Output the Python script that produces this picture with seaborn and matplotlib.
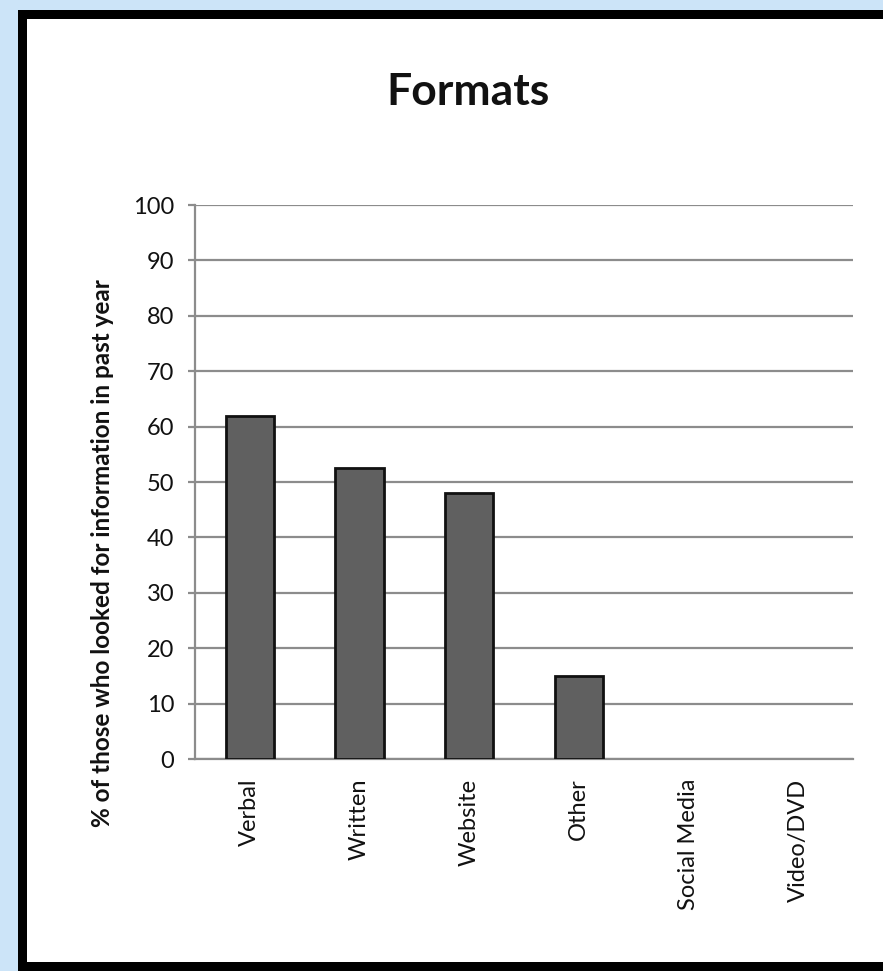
import matplotlib
matplotlib.use("Agg")
import matplotlib.pyplot as plt
from matplotlib.patches import Rectangle
import seaborn as sns
import pandas as pd

# Survey results: share of people who looked for information, by format
categories = ["Verbal", "Written", "Website", "Other", "Social Media", "Video/DVD"]
percentages = [62, 52.5, 48, 15, 0, 0]
y_ticks = [0, 10, 20, 30, 40, 50, 60, 70, 80, 90, 100]

df = pd.DataFrame({"format": categories, "pct": percentages})

sns.set_theme(style="white")
plt.rcParams["font.family"] = ["Lato", "DejaVu Sans"]

W, H = 883, 971
fig = plt.figure(figsize=(W / 100, H / 100), dpi=100, facecolor="#cce4f8")

# White panel with thick black frame, kept behind the axes
frame = Rectangle((21.5 / W, 1 - 966 / H), 1.2, (966 - 14.5) / H,
                  transform=fig.transFigure, facecolor="white",
                  edgecolor="black", linewidth=9 * 0.72, zorder=-1)
fig.patches.append(frame)

ax = fig.add_axes([195 / W, 1 - 759 / H, (853 - 195) / W, (759 - 205) / H])
ax.set_facecolor("none")

sns.barplot(data=df, x="format", y="pct", ax=ax, color="#606060",
            width=0.44, edgecolor="#111111", linewidth=2.0, saturation=1,
            zorder=3)

# Empty categories get no visible bar outline
for bar in ax.patches:
    if bar.get_height() == 0:
        bar.set_visible(False)

ax.set_ylim(0, 100)
ax.set_xlim(-0.5, len(categories) - 0.5)
ax.set_yticks(y_ticks)
ax.yaxis.grid(True, color="#8c8c8c", linewidth=1.6, zorder=0)
ax.set_axisbelow(True)

for side in ["top", "right"]:
    ax.spines[side].set_visible(False)
ax.spines["left"].set_color("#8c8c8c")
ax.spines["left"].set_linewidth(1.6)
ax.spines["bottom"].set_color("#8c8c8c")
ax.spines["bottom"].set_linewidth(1.6)

ax.tick_params(axis="y", which="major", length=5, width=1.6, color="#8c8c8c",
               left=True, labelsize=17, pad=10, labelcolor="#111111")
ax.tick_params(axis="x", length=0, pad=14, labelsize=17, labelcolor="#111111")
for lbl in ax.get_xticklabels():
    lbl.set_rotation(90)
    lbl.set_va("top")
    lbl.set_ha("center")

ax.set_xlabel("")
ax.set_ylabel("% of those who looked for information in past year",
              fontsize=17.5, fontweight="bold", color="#111111")
ax.yaxis.set_label_coords((103 - 195) / 658, (759 - 553) / 554)
ax.yaxis.label.set_va("center")

fig.text(468 / W, 1 - 92 / H, "Formats", ha="center", va="center",
         fontsize=32, fontweight="bold", color="#111111")

fig.savefig("out.png", dpi=100, facecolor=fig.get_facecolor())
